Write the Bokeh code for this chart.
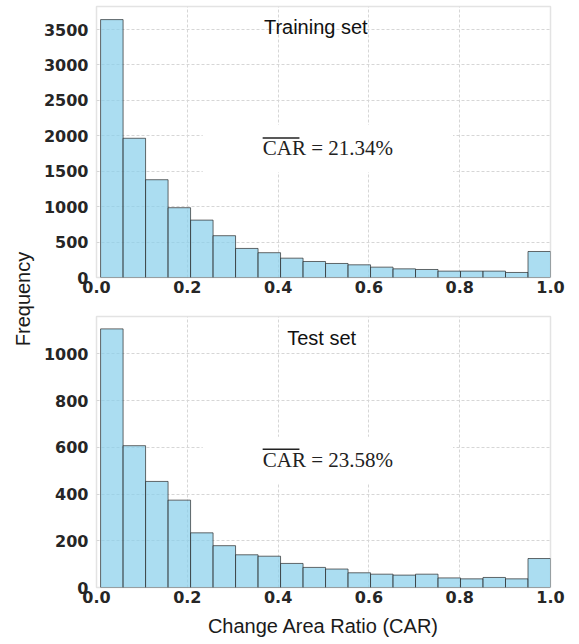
import numpy as np
from math import pi
from bokeh.plotting import figure
from bokeh.models import (Label, ColumnDataSource, FixedTicker,
                          NumeralTickFormatter, BoxAnnotation)
from bokeh.layouts import row, column
from bokeh.embed import file_html
from bokeh.resources import INLINE

# ---- data ----
train_counts = [3640, 1965, 1380, 985, 810, 590, 410, 350, 273, 226,
                198, 179, 146, 122, 113, 90, 90, 90, 71, 367]
test_counts = [1107, 607, 454, 374, 234, 179, 140, 134, 103, 86,
               79, 63, 57, 53, 57, 41, 37, 43, 37, 124]
bin_lo = 0.009
bin_hi = 1.0
n_bins = 20
x_ticks = [0.0, 0.2, 0.4, 0.6, 0.8, 1.0]
train_yticks = [0, 500, 1000, 1500, 2000, 2500, 3000, 3500]
test_yticks = [0, 200, 400, 600, 800, 1000]
train_title = "Training set"
test_title = "Test set"
train_mean = "CAR = 21.34%"
test_mean = "CAR = 23.58%"
x_label = "Change Area Ratio (CAR)"
y_label = "Frequency"

edges = np.linspace(bin_lo, bin_hi, n_bins + 1)

TICK_FONT = "DejaVu Sans"
LABEL_FONT = "Liberation Sans"
SERIF = "Liberation Serif"


def make_hist(counts, yticks, ymax, height, top_b, bot_b, title, tx, ty,
              mean_txt, mx, my, ov_y, show_xlabel):
    p = figure(width=543, height=height, x_range=(0, 1.0), y_range=(0, ymax),
               output_backend="svg", toolbar_location=None,
               min_border_left=60, min_border_right=29,
               min_border_top=top_b, min_border_bottom=bot_b)
    src = ColumnDataSource(dict(left=edges[:-1], right=edges[1:],
                                top=counts, bottom=[0] * len(counts)))
    p.quad(left="left", right="right", top="top", bottom="bottom", source=src,
           fill_color="#87CEEB", fill_alpha=0.7,
           line_color="#2b2b2b", line_alpha=0.7, line_width=1)
    p.outline_line_color = "#e3e3e3"
    p.outline_line_width = 1.5
    p.background_fill_color = "white"
    p.border_fill_color = "white"
    for ax in (p.xaxis[0], p.yaxis[0]):
        ax.axis_line_color = None
        ax.major_tick_line_color = None
        ax.minor_tick_line_color = None
        ax.major_tick_out = 0
        ax.major_tick_in = 0
        ax.minor_tick_out = 0
        ax.minor_tick_in = 0
        ax.major_label_text_font = TICK_FONT
        ax.major_label_text_font_style = "bold"
        ax.major_label_text_font_size = "16px"
        ax.major_label_text_color = "#262626"
    p.xaxis.ticker = FixedTicker(ticks=x_ticks)
    p.xaxis.formatter = NumeralTickFormatter(format="0.0")
    p.xaxis.major_label_standoff = 3
    p.yaxis.ticker = FixedTicker(ticks=yticks)
    p.yaxis.major_label_standoff = 8
    p.xgrid.ticker = FixedTicker(ticks=x_ticks)
    p.ygrid.ticker = FixedTicker(ticks=yticks)
    p.grid.grid_line_color = "#d6d6d6"
    p.grid.grid_line_dash = "3 2"
    p.grid.grid_line_width = 1
    if show_xlabel:
        p.xaxis.axis_label = x_label
        p.xaxis.axis_label_text_font = LABEL_FONT
        p.xaxis.axis_label_text_font_style = "normal"
        p.xaxis.axis_label_text_font_size = "20px"
        p.xaxis.axis_label_text_color = "#1a1a1a"
        p.xaxis.axis_label_standoff = 9
    p.add_layout(Label(x=tx, y=ty, text=title, text_align="center",
                       text_baseline="alphabetic", text_font=LABEL_FONT,
                       text_font_size="20px", text_color="#111111"))
    p.add_layout(Label(x=mx, y=my, text=mean_txt, text_align="left",
                       text_baseline="alphabetic", text_font=SERIF,
                       text_font_size="21px", text_color="#222222",
                       background_fill_color="white",
                       padding=dict(left=60, right=60, top=11, bottom=12)))
    # overline above "CAR"
    p.add_layout(BoxAnnotation(left=0.366, right=0.447,
                               bottom=ov_y[0], top=ov_y[1],
                               fill_color="#222222", fill_alpha=1.0,
                               line_color=None))
    return p


p1 = make_hist(train_counts, train_yticks, 3825, 307, 6, 30,
               train_title, 0.483, 3530, train_mean, 0.234, 1822,
               (1960, 1980), False)
p2 = make_hist(test_counts, test_yticks, 1160, 337, 9, 57,
               test_title, 0.496, 1069, test_mean, 0.234, 545,
               (589, 595), True)

lab = figure(width=36, height=644, x_range=(0, 1), y_range=(0, 1),
             output_backend="svg", toolbar_location=None,
             min_border=0, x_axis_type=None, y_axis_type=None)
lab.grid.visible = False
lab.outline_line_color = None
lab.add_layout(Label(x=22 / 36, y=345.5 / 644, text=y_label, angle=pi / 2,
                     text_align="center", text_baseline="middle",
                     text_font=LABEL_FONT, text_font_size="20px",
                     text_color="#1a1a1a"))

layout = row(lab, column(p1, p2, spacing=0), spacing=0)
open("out.html", "w").write(file_html(layout, INLINE))
